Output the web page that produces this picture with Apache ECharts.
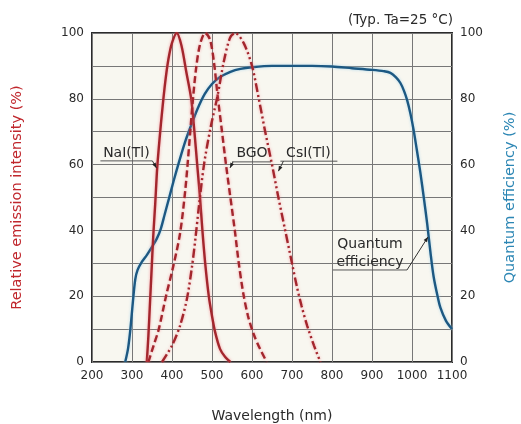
<!DOCTYPE html>
<html>
<head>
<meta charset="utf-8">
<script src="https://cdn.jsdelivr.net/npm/echarts@6/dist/echarts.min.js"></script>
<style>
  html, body { margin: 0; padding: 0; background: #ffffff; }
  #chart { width: 521px; height: 424px; }
</style>
</head>
<body>
<div id="chart"></div>
<script>
// Emission spectra of scintillators (left axis) and photodiode quantum efficiency (right axis)
// Each series: [wavelength (nm), value (%)]
const naiTl = [[337,0],[341,8],[345,18],[349,28],[353,38],[358,48],[363,59],[369,68],[376,77],[383,85],[391,92],[400,97],[412,100],[424,96],[436,88],[448,80],[456,70],[463,60],[470,50],[476,40],[483,30],[492,20],[500,14],[508,9],[520,4],[533,1.5],[546,0]];
const bgo = [[341,0],[354,5],[367,10],[385,20],[403,29],[420,39],[433,52],[443,66],[451,78],[460,89],[470,96.5],[483,100],[495,98],[505,91],[514,81],[524,71],[535,60],[546,50],[557,40],[567,30],[578,21],[590,14],[604,8.5],[620,4],[637,0]];
const csiTl = [[375,0],[400,5],[420,11],[437,19],[450,29],[459,38],[467,47],[480,60],[496,71],[514,81],[529,91],[545,98.5],[558,100],[579,97],[600,90],[617,80],[633,70],[650,60],[666,50],[683,40],[700,30],[712,23],[724,17],[738,11],[755,5],[771,0]];
const quantumEff = [[283,0],[290,4],[296,10],[302,18],[308,25],[314,28],[325,30.5],[337,32.5],[350,35],[362,37.5],[372,40.5],[382,45],[392,49.5],[404,55],[418,61],[433,67],[448,72],[464,77],[482,81.5],[500,84.5],[520,86.6],[546,88.2],[571,89.1],[600,89.6],[650,90],[700,90],[750,90],[800,89.8],[850,89.3],[900,88.8],[929,88.4],[946,87.9],[960,86.5],[971,84.8],[980,82.4],[988,79.5],[996,75.5],[1004,70.5],[1012,64.5],[1021,57.5],[1030,49.5],[1038,42],[1046,33.5],[1054,26],[1063,20.5],[1071,16.5],[1085,12.5],[1100,10]];

const xTicks = [200,300,400,500,600,700,800,900,1000,1100];
const yTicks = [0,20,40,60,80,100];

// Callout labels: text lines and the point on the curve the arrow touches
const callouts = [
  { lines: ['NaI(Tl)'], tip: [361, 59], elbow: [-4, -7], under: [-52, 0], textAt: [-26, -8] },
  { lines: ['BGO'], tip: [545, 59], elbow: [3, -6], under: [-1, 38], textAt: [19, -9] },
  { lines: ['CsI(Tl)'], tip: [666, 58], elbow: [5, -10], under: [-3, 54], textAt: [25, -8] },
  { lines: ['Quantum', 'efficiency'], tip: [1040, 38], elbow: [-21, 33], under: [-74, 0], textAt: [-37, -26] }
];

const FONT = 'DejaVu Sans';
const RED = '#a3262d';
const BLUE = '#1c5882';
const chart = echarts.init(document.getElementById('chart'), null, { renderer: 'canvas' });

function curve(name, data, color, type, halo, yIdx) {
  return {
    name, type: 'line', data, yAxisIndex: yIdx, showSymbol: false, symbol: 'none',
    smooth: 0.3, z: yIdx === 1 ? 3 : 4,
    lineStyle: { color, width: 2.4, type, shadowColor: halo, shadowBlur: 3, cap: 'butt' },
    emphasis: { disabled: true }
  };
}

const yAxisBase = {
  type: 'value', min: 0, max: 100, interval: 10,
  axisLine: { show: false }, axisTick: { show: false },
  axisLabel: {
    formatter: v => (yTicks.includes(v) ? String(v) : ''),
    color: '#2a2a2a', fontFamily: FONT, fontSize: 12, margin: 8
  },
  nameLocation: 'middle', nameRotate: 90,
};

chart.setOption({
  animation: false,
  backgroundColor: '#ffffff',
  grid: {
    left: 92, right: 69, top: 33, bottom: 62, show: true,
    containLabel: false, outerBoundsMode: 'none',
    backgroundColor: '#f8f7f0', borderColor: '#2b2b2b', borderWidth: 2, z: 0
  },
  title: {
    text: '(Typ. Ta=25 °C)', right: 63, top: 8,
    textStyle: { fontFamily: FONT, fontSize: 13.5, fontWeight: 'normal', color: '#2a2a2a' }
  },
  xAxis: {
    type: 'value', min: 200, max: 1100, interval: 100,
    axisLine: { show: false }, axisTick: { show: false },
    axisLabel: {
      formatter: v => (xTicks.includes(v) ? String(v) : ''),
      color: '#2a2a2a', fontFamily: FONT, fontSize: 12, margin: 8
    },
    splitLine: { show: true, lineStyle: { color: '#777777', width: 1 } },
    name: 'Wavelength (nm)', nameLocation: 'middle', nameGap: 47,
    nameTextStyle: { fontFamily: FONT, fontSize: 14, color: '#2a2a2a' }
  },
  yAxis: [
    Object.assign({}, yAxisBase, {
      position: 'left',
      splitLine: { show: true, lineStyle: { color: '#777777', width: 1 } },
      name: 'Relative emission intensity (%)', nameGap: 67,
      nameTextStyle: { fontFamily: FONT, fontSize: 14.5, color: '#c0272d' }
    }),
    Object.assign({}, yAxisBase, {
      position: 'right',
      splitLine: { show: false },
      name: 'Quantum efficiency (%)', nameGap: 51,
      nameTextStyle: { fontFamily: FONT, fontSize: 14.5, color: '#2c86b4' }
    })
  ],
  series: [
    curve('Quantum efficiency', quantumEff, BLUE, 'solid', 'rgba(160,210,235,0.8)', 1),
    curve('NaI(Tl)', naiTl, RED, 'solid', 'rgba(245,120,130,0.7)', 0),
    curve('BGO', bgo, RED, [7, 3.5], 'rgba(245,120,130,0.7)', 0),
    curve('CsI(Tl)', csiTl, RED, [9, 3, 2, 3, 2, 3], 'rgba(245,120,130,0.7)', 0)
  ]
});

// Callout leaders with arrowheads, positioned from the curve point in data space
function drawCallouts() {
  const els = [];
  callouts.forEach(c => {
    const [tx, ty] = chart.convertToPixel({ gridIndex: 0 }, c.tip);
    const ex = tx + c.elbow[0], ey = ty + c.elbow[1];
    const ux0 = ex + Math.min(c.under[0], c.under[1] || 0);
    const ux1 = ex + Math.max(c.under[0], c.under[1] || 0);
    els.push({ type: 'polyline', silent: true, z: 10,
      shape: { points: [[ux0, ey], [ux1, ey]] },
      style: { stroke: '#555', lineWidth: 1, fill: null } });
    els.push({ type: 'polyline', silent: true, z: 10,
      shape: { points: [[ex, ey], [tx, ty]] },
      style: { stroke: '#333', lineWidth: 1, fill: null } });
    // arrowhead pointing at the curve
    const dx = tx - ex, dy = ty - ey, len = Math.hypot(dx, dy);
    const ux = dx / len, uy = dy / len, L = 5, W = 2;
    const bx = tx - ux * L, by = ty - uy * L;
    els.push({ type: 'polygon', silent: true, z: 11,
      shape: { points: [[tx, ty], [bx - uy * W, by + ux * W], [bx + uy * W, by - ux * W]] },
      style: { fill: '#222' } });
    const lh = 18;
    c.lines.forEach((s, i) => {
      els.push({ type: 'text', silent: true, z: 12,
        x: ex + c.textAt[0], y: ey + c.textAt[1] + i * lh,
        style: { text: s, fontFamily: FONT, fontSize: 14, fill: '#2a2a2a',
          align: 'center', verticalAlign: 'middle' } });
    });
  });
  chart.setOption({ graphic: els });
}
drawCallouts();
</script>
</body>
</html>
